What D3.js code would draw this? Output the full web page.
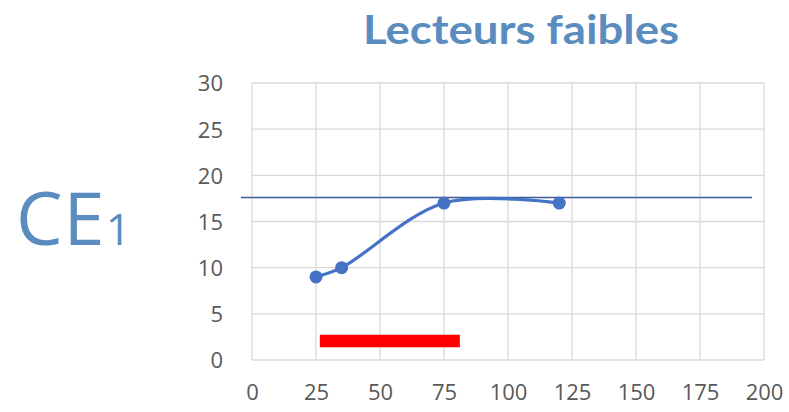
<!DOCTYPE html>
<html>
<head>
<meta charset="utf-8">
<script src="https://cdn.jsdelivr.net/npm/d3@7"></script>
<style>
  body { margin: 0; background: #fff; }
  svg { display: block; }
</style>
</head>
<body>
<script>
// dimensions
const width = 789;
const height = 412;

const margin = { top: 83, right: 25, bottom: 52, left: 252 };

// data
const title = "Lecteurs faibles";
const sideLabel = "CE";
const sideLabelSub = "1";
const xValues = [25, 35, 75, 120];
const yValues = [9, 10, 17, 17];
const xTicks = [0, 25, 50, 75, 100, 125, 150, 175, 200];
const yTicks = [0, 5, 10, 15, 20, 25, 30];
// thin reference line: level and extent (drawn a bit outside the plot on the left)
const refLevel = 17.6;
const refExtent = [-4.3, 195.3];
// red bar near the bottom
const barExtent = [26.5, 81.2];
const barLevel = 2.05;

const lineColor = "#4472c4";
const gridColor = "#d9d9d9";
const textColor = "#595959";
const titleColor = "#5a8cbf";

let svg = d3.select("body")
    .append("svg")
    .attr("width", width)
    .attr("height", height);

let x = d3.scaleLinear()
    .domain([0, 200])
    .range([margin.left, width - margin.right]);
let y = d3.scaleLinear()
    .domain([0, 30])
    .range([height - margin.bottom, margin.top]);

// gridlines
svg.append("g")
    .selectAll("line.v")
    .data(xTicks)
    .enter()
    .append("line")
    .attr("x1", d => x(d)).attr("x2", d => x(d))
    .attr("y1", y(0)).attr("y2", y(30))
    .attr("stroke", gridColor)
    .attr("stroke-width", 1.3);

svg.append("g")
    .selectAll("line.h")
    .data(yTicks)
    .enter()
    .append("line")
    .attr("x1", x(0)).attr("x2", x(200))
    .attr("y1", d => y(d)).attr("y2", d => y(d))
    .attr("stroke", gridColor)
    .attr("stroke-width", 1.3);

// axes (labels only, Excel style)
let yAxis = svg.append("g")
    .attr("transform", "translate(" + (x(0) - 29) + ",0)")
    .call(d3.axisLeft(y).tickValues(yTicks).tickSize(0).tickPadding(0));
let xAxis = svg.append("g")
    .attr("transform", "translate(0," + (y(0) + 30) + ")")
    .call(d3.axisBottom(x).tickValues(xTicks).tickSize(0).tickPadding(0));

[xAxis, yAxis].forEach(function(a) {
    a.select(".domain").remove();
    a.selectAll("text")
        .attr("fill", textColor)
        .style("font-family", "'Open Sans', sans-serif")
        .style("font-size", "22px");
});
xAxis.selectAll("text").attr("dy", "0.45em");
yAxis.selectAll("text").attr("dy", "0.36em");

// reference line
svg.append("line")
    .attr("x1", x(refExtent[0])).attr("x2", x(refExtent[1]))
    .attr("y1", y(refLevel)).attr("y2", y(refLevel))
    .attr("stroke", "#3c5d97")
    .attr("stroke-width", 1.5);

// red bar
svg.append("line")
    .attr("x1", x(barExtent[0])).attr("x2", x(barExtent[1]))
    .attr("y1", y(barLevel)).attr("y2", y(barLevel))
    .attr("stroke", "#ff0000")
    .attr("stroke-width", 12.5);

// smoothed series
let points = xValues.map((d, i) => [d, yValues[i]]);
let line = d3.line()
    .x(d => x(d[0]))
    .y(d => y(d[1]))
    .curve(d3.curveCatmullRom.alpha(0.5));

svg.append("path")
    .datum(points)
    .attr("d", line)
    .attr("fill", "none")
    .attr("stroke", lineColor)
    .attr("stroke-width", 3.2);

svg.append("g")
    .selectAll("circle")
    .data(points)
    .enter()
    .append("circle")
    .attr("cx", d => x(d[0]))
    .attr("cy", d => y(d[1]))
    .attr("r", 6.5)
    .attr("fill", lineColor);

// title
svg.append("text")
    .attr("x", 521)
    .attr("y", 44)
    .attr("text-anchor", "middle")
    .attr("fill", titleColor)
    .attr("textLength", 316)
    .attr("lengthAdjust", "spacingAndGlyphs")
    .style("font-family", "Lato, sans-serif")
    .style("font-weight", "bold")
    .style("font-size", "41px")
    .text(title);

// side label
let side = svg.append("text")
    .attr("x", 16)
    .attr("y", 245)
    .attr("fill", titleColor)
    .style("font-family", "'Open Sans', sans-serif")
    .style("font-size", "74px")
    .style("letter-spacing", "1px");
side.append("tspan").text(sideLabel);
side.append("tspan")
    .style("font-size", "44px")
    .text(sideLabelSub);
</script>
</body>
</html>
